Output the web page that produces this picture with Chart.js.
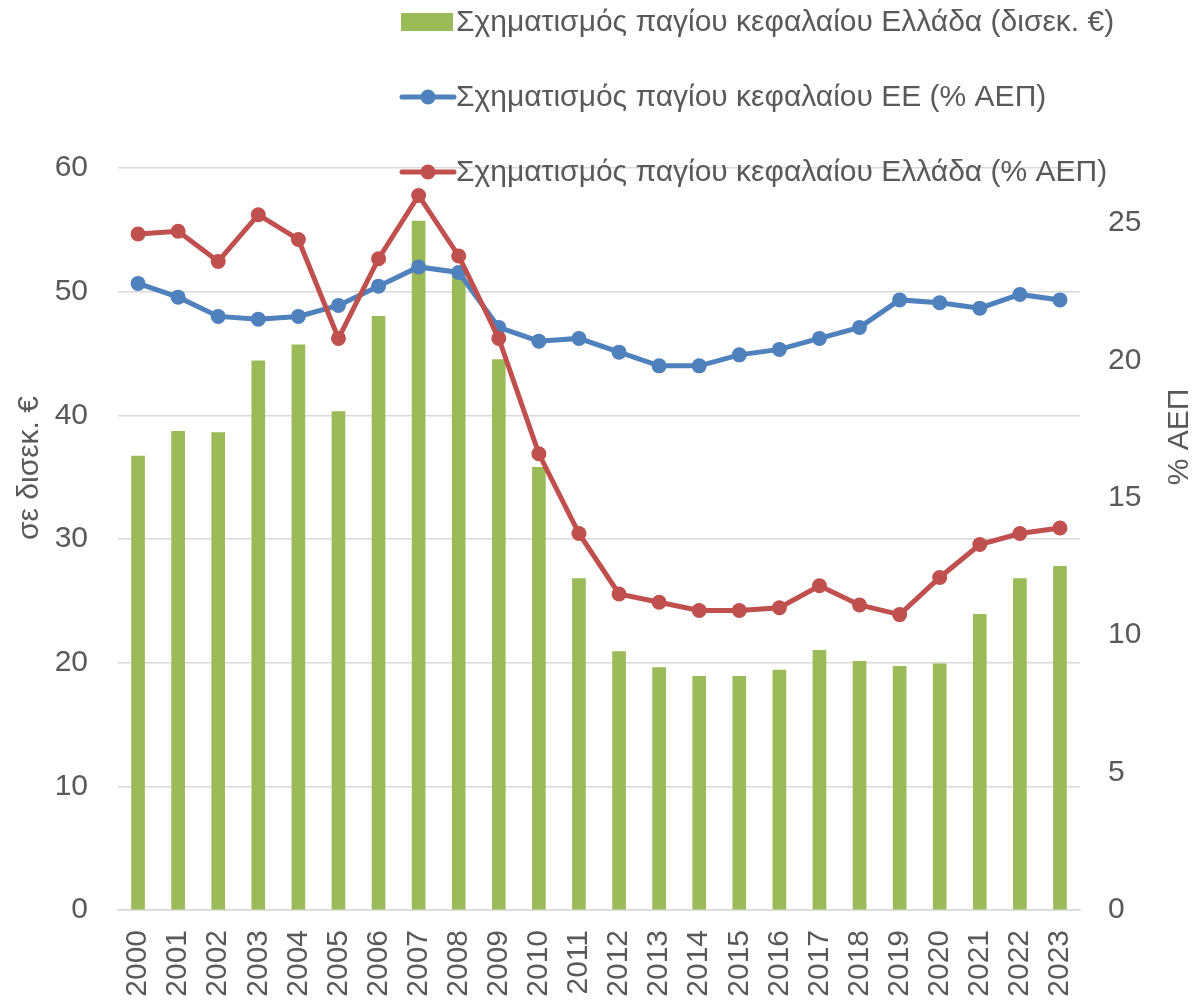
<!DOCTYPE html>
<html>
<head>
<meta charset="utf-8">
<script src="https://cdn.jsdelivr.net/npm/chart.js@4.4.1/dist/chart.umd.min.js"></script>
<style>
  body { margin: 0; background: #fff; }
  #wrap { width: 1196px; height: 1001px; }
</style>
</head>
<body>
<div id="wrap"><canvas id="chartGfcf" width="1196" height="1001"></canvas></div>
<script>
// Years on the x axis
var years = ['2000', '2001', '2002', '2003', '2004', '2005', '2006', '2007', '2008', '2009', '2010', '2011',
  '2012', '2013', '2014', '2015', '2016', '2017', '2018', '2019', '2020', '2021', '2022', '2023'];

// Greece gross fixed capital formation, bn €
var greeceBillion = [36.7, 38.7, 38.6, 44.4, 45.7, 40.3, 48.0, 55.7, 51.6, 44.5, 35.8, 26.8,
  20.9, 19.6, 18.9, 18.9, 19.4, 21.0, 20.1, 19.7, 19.9, 23.9, 26.8, 27.8];

// EU gross fixed capital formation, % of GDP
var euPctGdp = [22.8, 22.3, 21.6, 21.5, 21.6, 22.0, 22.7, 23.4, 23.2, 21.2, 20.7, 20.8,
  20.3, 19.8, 19.8, 20.2, 20.4, 20.8, 21.2, 22.2, 22.1, 21.9, 22.4, 22.2];

// Greece gross fixed capital formation, % of GDP
var greecePctGdp = [24.6, 24.7, 23.6, 25.3, 24.4, 20.8, 23.7, 26.0, 23.8, 20.8, 16.6, 13.7,
  11.5, 11.2, 10.9, 10.9, 11.0, 11.8, 11.1, 10.75, 12.1, 13.3, 13.7, 13.9];

var textColor = '#595959';
var fontFamily = "'Liberation Sans', Arial, sans-serif";
var fontSize = 30;

// Draws the legend and both axis titles in the same spots as the original
var extrasPlugin = {
  id: 'extras',
  afterDraw: function (chart) {
    var c = chart.ctx;
    var sets = chart.data.datasets;
    c.save();
    c.font = fontSize + 'px ' + fontFamily;
    c.textBaseline = 'middle';
    c.textAlign = 'left';

    var rows = [22, 97, 172];
    // bars entry
    c.fillStyle = sets[0].backgroundColor;
    c.fillRect(401, rows[0] - 9, 52, 18);
    // line entries
    [1, 2].forEach(function (i) {
      c.strokeStyle = sets[i].borderColor;
      c.lineWidth = 5;
      c.lineCap = 'round';
      c.beginPath();
      c.moveTo(402, rows[i]);
      c.lineTo(454, rows[i]);
      c.stroke();
      c.fillStyle = sets[i].borderColor;
      c.beginPath();
      c.arc(428, rows[i], 7.5, 0, Math.PI * 2);
      c.fill();
    });
    c.fillStyle = textColor;
    for (var i = 0; i < 3; i++) {
      c.fillText(sets[i].label, 456, rows[i] + 1);
    }

    // axis titles
    c.textAlign = 'center';
    c.translate(30, 468);
    c.rotate(-Math.PI / 2);
    c.fillText('σε δισεκ. €', 0, 0);
    c.restore();

    c.save();
    c.font = fontSize + 'px ' + fontFamily;
    c.fillStyle = textColor;
    c.textAlign = 'center';
    c.textBaseline = 'middle';
    c.translate(1180, 437);
    c.rotate(-Math.PI / 2);
    c.fillText('% ΑΕΠ', 0, 0);
    c.restore();
  }
};

var ctx = document.getElementById('chartGfcf');

var chart = new Chart(ctx, {
  type: 'bar',
  data: {
    labels: years,
    datasets: [
      {
        label: 'Σχηματισμός παγίου κεφαλαίου Ελλάδα (δισεκ. €)',
        data: greeceBillion,
        backgroundColor: '#9BBB59',
        barThickness: 13,
        yAxisID: 'y',
        order: 3
      },
      {
        type: 'line',
        label: 'Σχηματισμός παγίου κεφαλαίου ΕΕ (% ΑΕΠ)',
        data: euPctGdp,
        borderColor: '#4F81BD',
        backgroundColor: '#4F81BD',
        borderWidth: 5,
        pointRadius: 7.5,
        pointBorderWidth: 0,
        tension: 0,
        yAxisID: 'y1',
        order: 2
      },
      {
        type: 'line',
        label: 'Σχηματισμός παγίου κεφαλαίου Ελλάδα (% ΑΕΠ)',
        data: greecePctGdp,
        borderColor: '#C0504D',
        backgroundColor: '#C0504D',
        borderWidth: 5,
        pointRadius: 7.5,
        pointBorderWidth: 0,
        tension: 0,
        yAxisID: 'y1',
        order: 1
      }
    ]
  },
  options: {
    responsive: false,
    animation: false,
    layout: { padding: { top: 168, left: 0, right: 0, bottom: 0 } },
    plugins: {
      legend: { display: false },
      tooltip: { enabled: false }
    },
    scales: {
      x: {
        grid: { display: false, drawTicks: false },
        border: { color: '#D9D9D9', width: 1.5 },
        ticks: {
          color: textColor,
          font: { family: fontFamily, size: fontSize },
          minRotation: 90,
          maxRotation: 90,
          padding: 20,
          autoSkip: false
        },
        afterFit: function (scale) { scale.height = 91; }
      },
      y: {
        position: 'left',
        min: 0,
        max: 60,
        grid: { color: '#D9D9D9', lineWidth: 1.5, drawTicks: false },
        border: { display: false },
        ticks: {
          stepSize: 10,
          color: textColor,
          font: { family: fontFamily, size: fontSize },
          padding: 30
        },
        afterFit: function (scale) { scale.width = 118; }
      },
      y1: {
        position: 'right',
        min: 0,
        max: 27,
        grid: { display: false, drawTicks: false },
        border: { display: false },
        ticks: {
          stepSize: 5,
          includeBounds: false,
          color: textColor,
          font: { family: fontFamily, size: fontSize },
          padding: 28,
          callback: function (value) {
            return value % 5 === 0 ? value : '';
          }
        },
        afterFit: function (scale) { scale.width = 116; }
      }
    }
  },
  plugins: [extrasPlugin]
});
</script>
</body>
</html>
